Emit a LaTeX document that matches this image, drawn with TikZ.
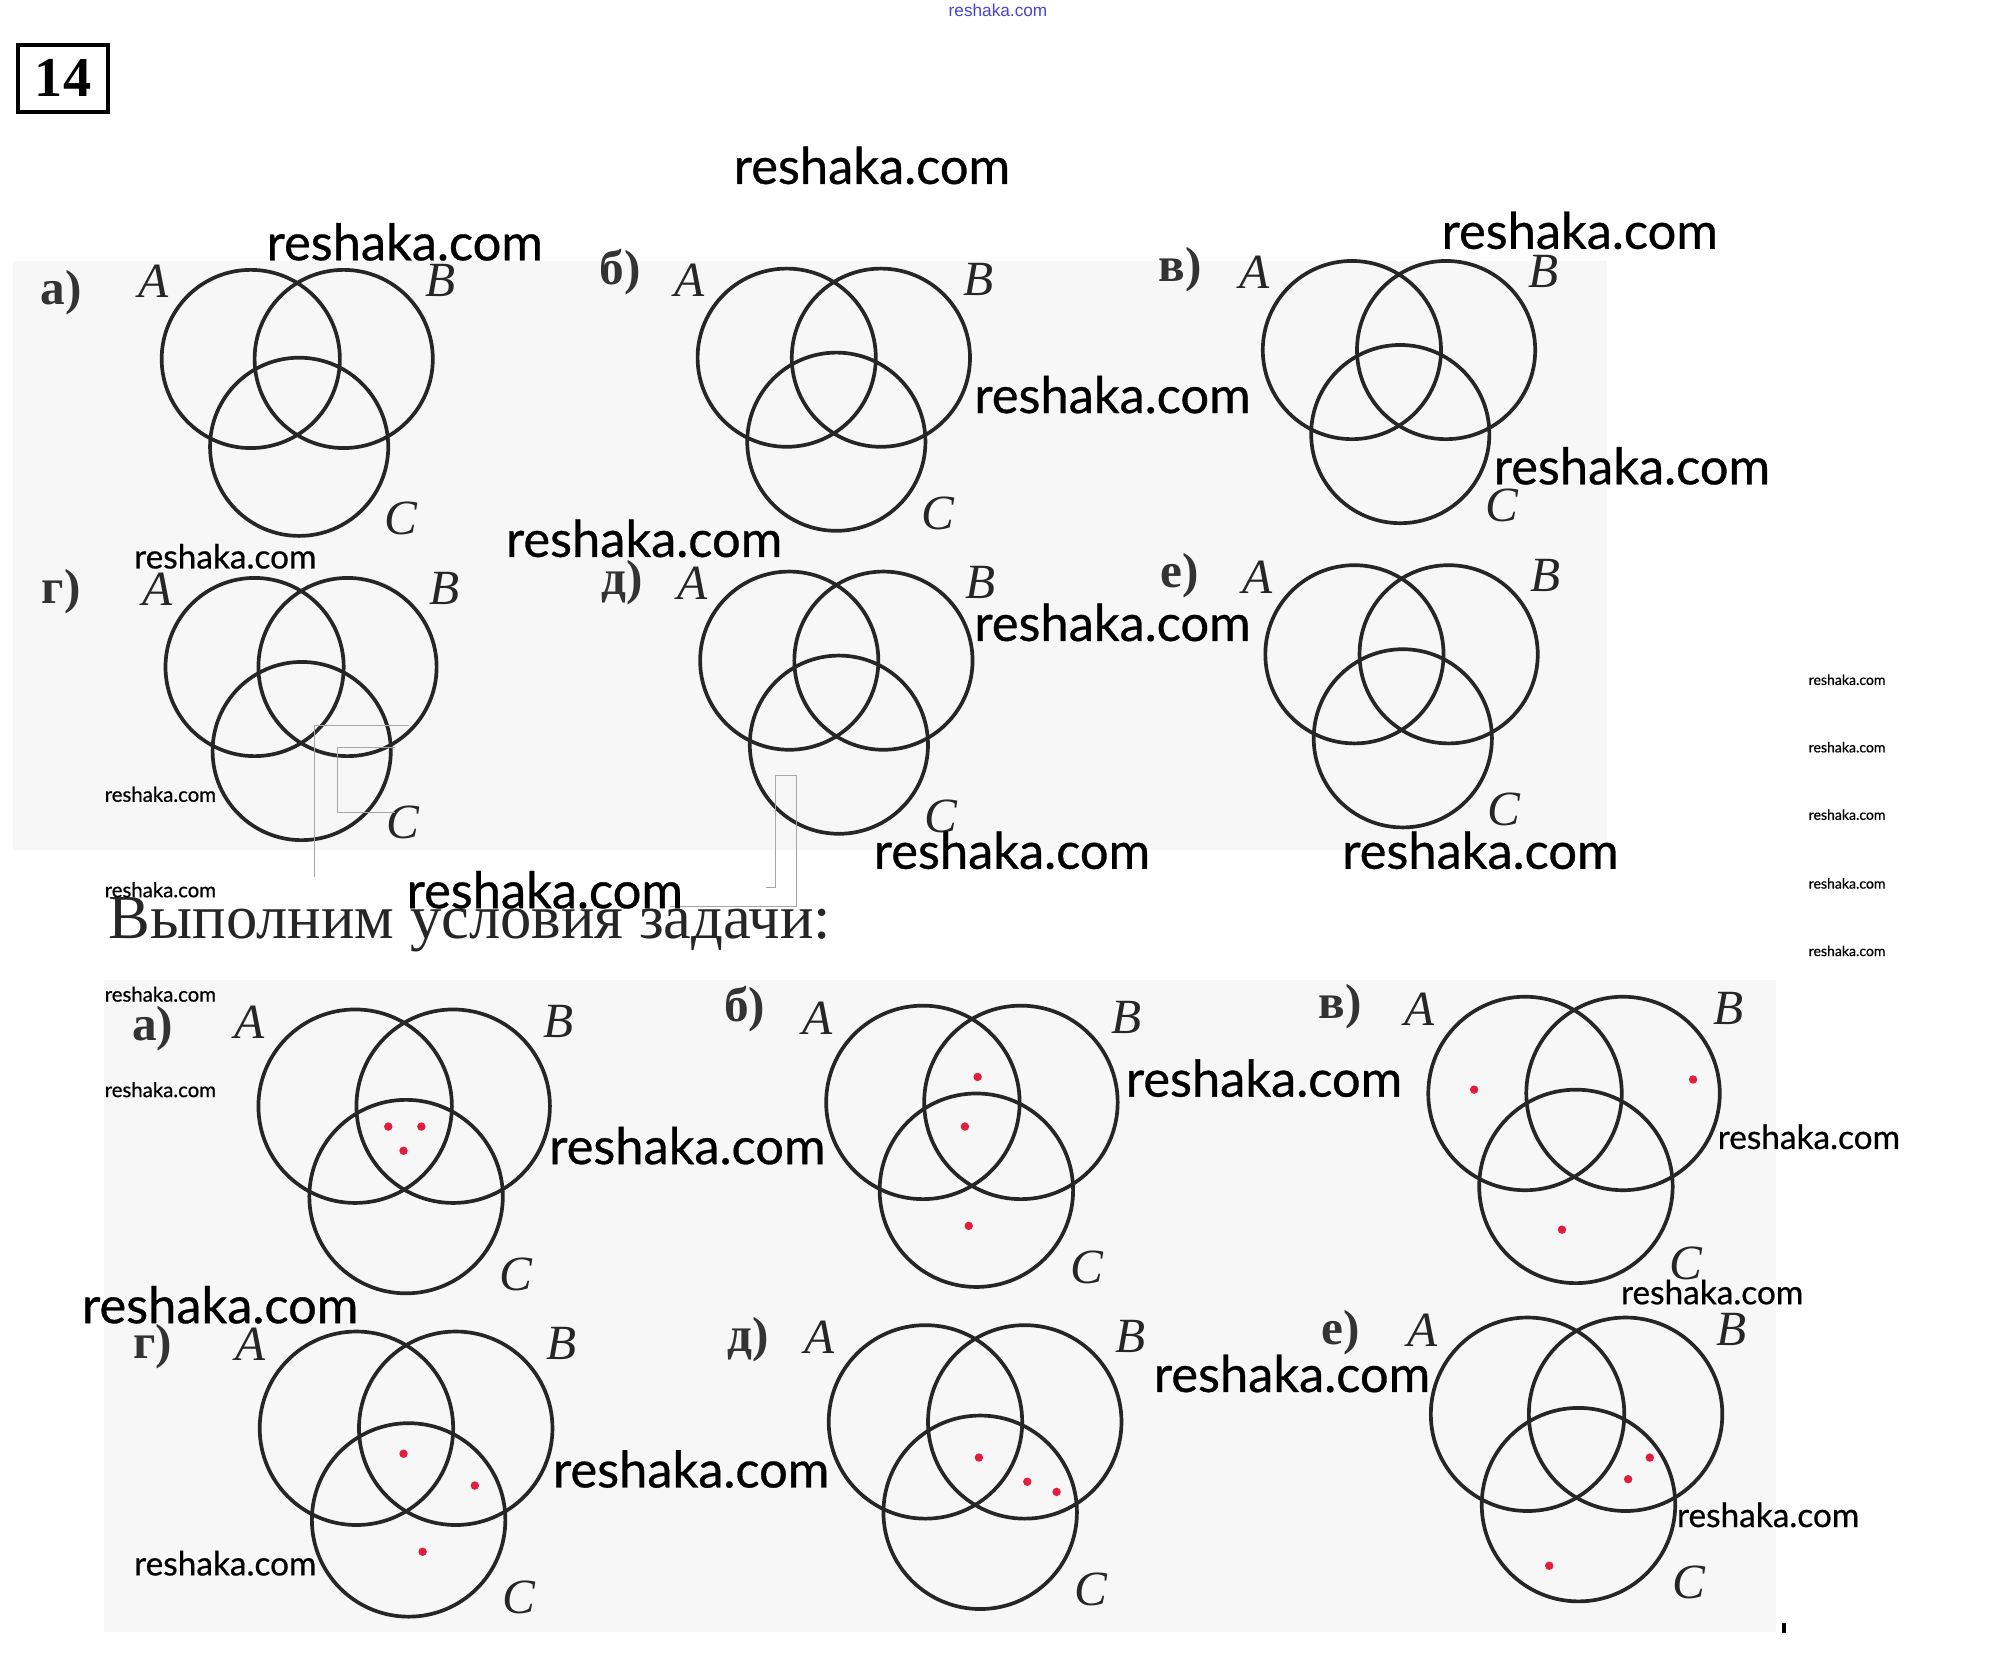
\documentclass[tikz,border=0pt]{standalone}
\usepackage{fontspec}
\newfontfamily\serifcyr{Liberation Serif}
\newfontfamily\wmfont{Lato}[FakeBold=0.6]
\newfontfamily\narrowfont{Liberation Sans}
\definecolor{pointred}{RGB}{226,30,60}
\definecolor{wmblue}{RGB}{70,70,210}
\usetikzlibrary{positioning}

\begin{document}
\begin{tikzpicture}[x=0.01273cm, y=-0.01273cm,
        ring/.style={draw=black!85, line width=1.05pt},
        setlabel/.style={font=\serifcyr\itshape\fontsize{14}{14}\selectfont, text=black!85, inner sep=0pt},
        tag/.style={font=\serifcyr\bfseries\fontsize{14}{14}\selectfont, text=black!80, inner sep=0pt},
        point/.style={circle, fill=pointred, inner sep=0pt, minimum size=2.4pt},
        wmbig/.style={font=\wmfont\fontsize{14.4}{14.4}\selectfont, inner sep=0pt},
        wmmid/.style={font=\wmfont\fontsize{9.5}{9.5}\selectfont, inner sep=0pt},
        wmsmall/.style={font=\wmfont\fontsize{5.8}{5.8}\selectfont, inner sep=0pt},
        wmtiny/.style={font=\wmfont\fontsize{4}{4}\selectfont, inner sep=0pt},
        ghost/.style={draw=black!35, line width=0.3pt},
        paper/.style={fill=black!3, draw=none}
    ]
    \useasboundingbox (0,0) rectangle (1568,1304);
    \fill[white] (0,0) rectangle (1568,1304);
    \fill[paper] (10,205) rectangle (1262,668);
    \fill[paper] (82,770) rectangle (1395,1282);

    % task number and heading
    \node[draw, line width=1.1pt, minimum width=25.6pt, minimum height=19pt, inner sep=0pt,
          font=\serifcyr\bfseries\fontsize{16}{16}\selectfont] (num) at (49.5,61.5) {14};
    \node[anchor=base west, inner sep=0pt, font=\serifcyr\fontsize{17.8}{17.8}\selectfont, text=black!85]
        (task) at (85,737) {Выполним условия задачи:};

    % venn diagrams
    \foreach \d/\t/\ax/\ay/\bx/\cx/\cy/\r/\tx/\ty in {
        ta/а)/197/282/270/235/351/70/48/230,
        tb/б)/618/281/692/657/347/70/487/214,
        tv/в)/1062/275/1136/1100/341/70/927/212,
        tg/г)/200/524/273/237/590/70/48/465,
        td/д)/620/519/694/659/585/70/489/458,
        te/е)/1064/514/1138/1102/580/70/927/452,
        sa/а)/279/869/356/319/940/76/120/808,
        sb/б)/725/866/802/767/935/76/585/793,
        sv/в)/1198/859/1275/1238/932/76/1053/791,
        sg/г)/280/1122/358/321/1194/76/120/1058,
        sd/д)/727/1117/805/770/1188/76/588/1052,
        se/е)/1200/1111/1277/1240/1182/76/1053/1047}{
        \draw[ring] (\ax,\ay) circle[radius=\r];
        \draw[ring] (\bx,\ay) circle[radius=\r];
        \draw[ring] (\cx,\cy) circle[radius=\r];
        \node[tag] (tag\d) at (\tx,\ty) {\t};
        \node[setlabel] (A\d) at ({\ax-1.09*\r},{\ay-0.87*\r}) {A};
        \node[setlabel] (B\d) at ({\bx+1.09*\r},{\ay-0.88*\r}) {B};
        \node[setlabel] (C\d) at ({\cx+1.14*\r},{\cy+0.8*\r}) {C};
    }

    % marked elements
    \foreach \x/\y [count=\i] in {305/885, 331/885, 317/904,
        768/846, 758/885, 761/963,
        1158/856, 1330/848, 1227/966,
        317/1142, 373/1167, 332/1219,
        769/1145, 807/1164, 830/1172,
        1296/1145, 1279/1162, 1217/1230}
        \node[point] (p\i) at (\x,\y) {};

    % scan traces
    \draw[ghost] (247,689) -- (247,570) -- (321,570);
    \draw[ghost] (310,587) -- (265,587) -- (265,638) -- (310,638);
    \draw[ghost] (526,712) -- (626,712) -- (626,609) -- (609,609) -- (609,697) -- (602,697);
    \fill[black] (1400,1275) rectangle (1403,1283);

    % watermarks
    \foreach \x/\y [count=\i] in {685/130, 318/190, 1241/181, 874/310, 1282/366, 506/423,
        874/489, 795/668, 1163/668, 428/699, 540/900, 993/847, 173/1025, 1015/1079, 543/1154}
        \node[wmbig] (wmbig\i) at (\x,\y) {reshaka.com};
    \foreach \x/\y [count=\i] in {177/437, 1421/893, 1345/1015, 1389/1190, 177/1228}
        \node[wmmid] (wmmid\i) at (\x,\y) {reshaka.com};
    \foreach \y [count=\i] in {624, 699, 781, 856}
        \node[wmsmall] (wmsmall\i) at (126,\y) {reshaka.com};
    \foreach \y [count=\i] in {534, 587, 640, 694, 747}
        \node[wmtiny] (wmtiny\i) at (1451,\y) {reshaka.com};
    \node[font=\narrowfont\fontsize{4.9}{4.9}\selectfont, text=wmblue, inner sep=0pt] (wmtop) at (784,8) {reshaka.com};
\end{tikzpicture}
\end{document}
